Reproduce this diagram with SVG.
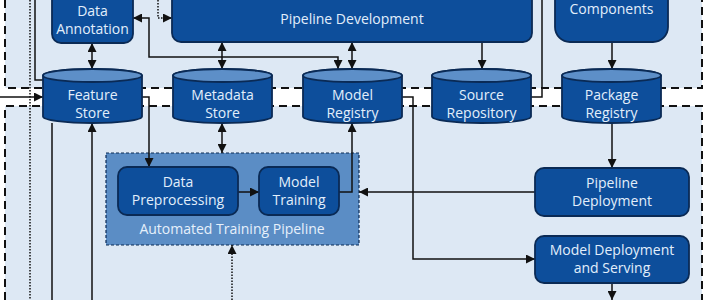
<svg xmlns="http://www.w3.org/2000/svg" width="710" height="300" viewBox="0 0 710 300">
<defs>
<style>
.region{fill:#dde8f4;}
.border{fill:none;stroke:#111;stroke-width:2;stroke-dasharray:8 5;}
.node{fill:#0d4e9b;stroke:#0a2a55;stroke-width:1.8;}
.cyltop{fill:#5d8fc8;stroke:#0a2a55;stroke-width:1.8;}
.lbl{font-family:"Open Sans","Noto Sans",sans-serif;font-size:14px;fill:#e2eefb;text-anchor:middle;}
.edge{fill:none;stroke:#111;stroke-width:1.5;}
.dot{fill:none;stroke:#111;stroke-width:1.5;stroke-dasharray:1.5 1.5;}
.atp{fill:#5b8dc5;stroke:#0a2a55;stroke-width:1.2;stroke-dasharray:3 2;}
.atplbl{font-family:"Open Sans","Noto Sans",sans-serif;font-size:14px;fill:#e6f0fb;text-anchor:middle;}
</style>
<marker id="ah" viewBox="0 0 10 10" refX="10" refY="5" markerWidth="9" markerHeight="9" markerUnits="userSpaceOnUse" orient="auto-start-reverse">
<path d="M0,0 L10,5 L0,10 Z" fill="#111"/>
</marker>
</defs>
<rect x="0" y="0" width="710" height="300" fill="#ffffff"/>
<rect class="region" x="5" y="-5" width="697" height="93"/>
<rect class="region" x="5" y="106" width="697" height="200"/>
<path class="border" d="M5,0 V88 H702 V0"/>
<path class="border" d="M5,300 V106 H702 V300"/>

<g id="automated-training-pipeline">
<rect class="atp" x="106" y="153" width="253" height="92"/>
<text class="atplbl" x="232" y="234">Automated Training Pipeline</text>
</g>

<g id="connectors">
<line class="edge" x1="0" y1="97" x2="43" y2="97" marker-end="url(#ah)"/>
<path class="edge" d="M35,0 V80 H44"/>
<line class="dot" x1="30" y1="0" x2="30" y2="300"/>
<line class="edge" x1="52" y1="123" x2="52" y2="300"/>
<line class="edge" x1="92" y1="300" x2="92" y2="123" marker-end="url(#ah)"/>
<line class="edge" x1="92" y1="43" x2="92" y2="69" marker-start="url(#ah)" marker-end="url(#ah)"/>
<path class="dot" d="M158,0 V18 H172" marker-end="url(#ah)"/>
<path class="edge" d="M133,18 H149 V57 H338 V69" marker-start="url(#ah)" marker-end="url(#ah)"/>
<line class="edge" x1="222" y1="42" x2="222" y2="69" marker-start="url(#ah)" marker-end="url(#ah)"/>
<line class="edge" x1="352" y1="42" x2="352" y2="69" marker-start="url(#ah)" marker-end="url(#ah)"/>
<line class="edge" x1="482" y1="42" x2="482" y2="69" marker-end="url(#ah)"/>
<path class="edge" d="M531,97 H542 V0"/>
<line class="edge" x1="612" y1="42" x2="612" y2="69" marker-end="url(#ah)"/>
<path class="edge" d="M142,97 H149 V167" marker-end="url(#ah)"/>
<line class="edge" x1="222" y1="123" x2="222" y2="153" marker-start="url(#ah)" marker-end="url(#ah)"/>
<path class="edge" d="M339,192 H352 V123" marker-end="url(#ah)"/>
<path class="edge" d="M402,97 H413 V259 H535" marker-end="url(#ah)"/>
<line class="edge" x1="612" y1="123" x2="612" y2="168" marker-end="url(#ah)"/>
<line class="edge" x1="535" y1="192" x2="359" y2="192" marker-end="url(#ah)"/>
<line class="edge" x1="612" y1="283" x2="612" y2="300" marker-end="url(#ah)"/>
<line class="dot" x1="232" y1="300" x2="232" y2="245" marker-end="url(#ah)"/>
<line class="edge" x1="238" y1="192" x2="259" y2="192" marker-end="url(#ah)"/>
</g>

<g id="data-annotation">
<rect class="node" x="52" y="-12" width="81" height="55" rx="9"/>
<text class="lbl" x="92.5" y="16">Data</text>
<text class="lbl" x="92.5" y="34">Annotation</text>
</g>
<g id="pipeline-development">
<rect class="node" x="172" y="-12" width="360" height="54" rx="9"/>
<text class="lbl" x="352" y="24">Pipeline Development</text>
</g>
<g id="components">
<rect class="node" x="555" y="-22" width="113" height="64" rx="15"/>
<text class="lbl" x="611.5" y="14">Components</text>
</g>

<g id="feature-store">
<path class="node" d="M43,75.5 A49.5,6.5 0 0 1 142,75.5 V116.5 A49.5,6.5 0 0 1 43,116.5 Z"/>
<ellipse class="cyltop" cx="92.5" cy="75.5" rx="49.5" ry="6.5"/>
<text class="lbl" x="92.5" y="99.5">Feature</text>
<text class="lbl" x="92.5" y="117.5">Store</text>
</g>
<g id="metadata-store">
<path class="node" d="M173,75.5 A49.5,6.5 0 0 1 272,75.5 V116.5 A49.5,6.5 0 0 1 173,116.5 Z"/>
<ellipse class="cyltop" cx="222.5" cy="75.5" rx="49.5" ry="6.5"/>
<text class="lbl" x="222.5" y="99.5">Metadata</text>
<text class="lbl" x="222.5" y="117.5">Store</text>
</g>
<g id="model-registry">
<path class="node" d="M303,75.5 A49.5,6.5 0 0 1 402,75.5 V116.5 A49.5,6.5 0 0 1 303,116.5 Z"/>
<ellipse class="cyltop" cx="352.5" cy="75.5" rx="49.5" ry="6.5"/>
<text class="lbl" x="352.5" y="99.5">Model</text>
<text class="lbl" x="352.5" y="117.5">Registry</text>
</g>
<g id="source-repository">
<path class="node" d="M432,75.5 A49.5,6.5 0 0 1 531,75.5 V116.5 A49.5,6.5 0 0 1 432,116.5 Z"/>
<ellipse class="cyltop" cx="481.5" cy="75.5" rx="49.5" ry="6.5"/>
<text class="lbl" x="481.5" y="99.5">Source</text>
<text class="lbl" x="481.5" y="117.5">Repository</text>
</g>
<g id="package-registry">
<path class="node" d="M562,75.5 A49.5,6.5 0 0 1 661,75.5 V116.5 A49.5,6.5 0 0 1 562,116.5 Z"/>
<ellipse class="cyltop" cx="611.5" cy="75.5" rx="49.5" ry="6.5"/>
<text class="lbl" x="611.5" y="99.5">Package</text>
<text class="lbl" x="611.5" y="117.5">Registry</text>
</g>

<g id="data-preprocessing">
<rect class="node" x="118" y="167" width="120" height="48" rx="9"/>
<text class="lbl" x="178" y="187">Data</text>
<text class="lbl" x="178" y="205">Preprocessing</text>
</g>
<g id="model-training">
<rect class="node" x="259" y="167" width="80" height="48" rx="9"/>
<text class="lbl" x="299" y="187">Model</text>
<text class="lbl" x="299" y="205">Training</text>
</g>
<g id="pipeline-deployment">
<rect class="node" x="535" y="168" width="154" height="48" rx="9"/>
<text class="lbl" x="612" y="188">Pipeline</text>
<text class="lbl" x="612" y="206">Deployment</text>
</g>
<g id="model-deployment">
<rect class="node" x="535" y="236" width="154" height="47" rx="9"/>
<text class="lbl" x="612" y="255">Model Deployment</text>
<text class="lbl" x="612" y="273">and Serving</text>
</g>
</svg>
